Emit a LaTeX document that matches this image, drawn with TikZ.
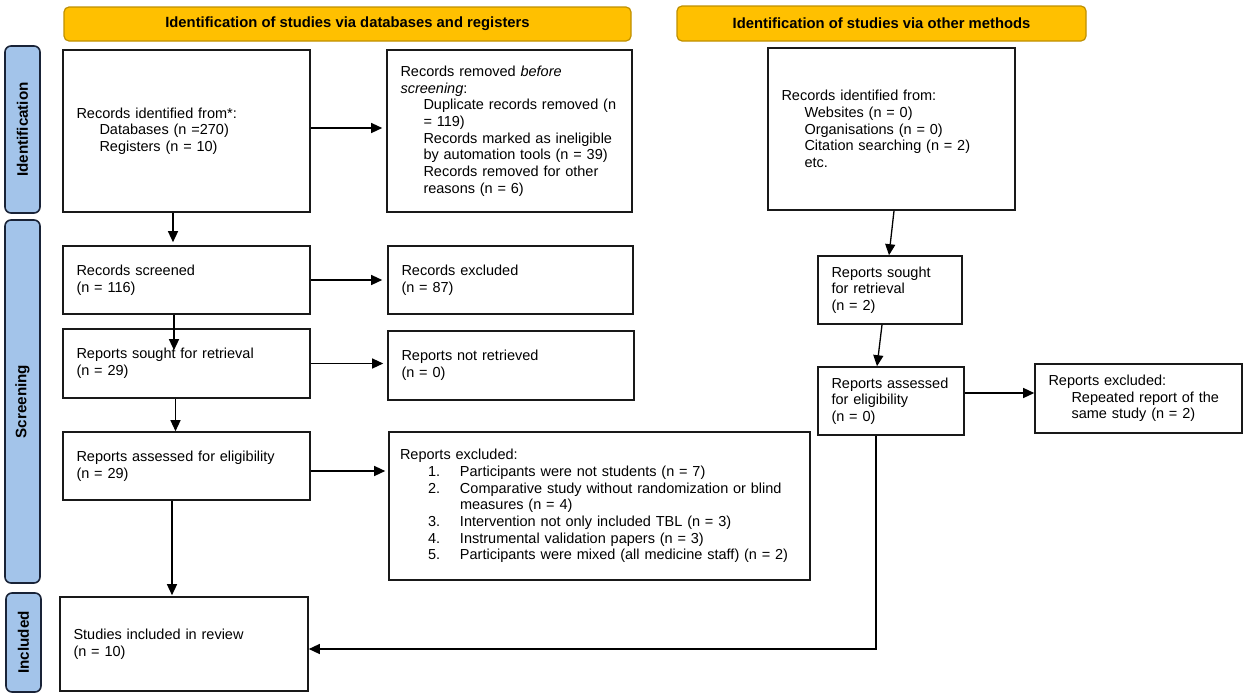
\documentclass[tikz,border=0pt]{standalone}
\usepackage{fontspec}
\setmainfont{Liberation Sans}
\usetikzlibrary{arrows.meta}
\definecolor{hdrfill}{RGB}{255,192,0}
\definecolor{hdrline}{RGB}{191,144,0}
\definecolor{sidefill}{RGB}{163,196,234}
\definecolor{sideline}{RGB}{25,35,55}
\newcommand\ind{\hspace*{23pt}}
\newcommand\plitem[2]{\hspace*{28pt}\makebox[32pt][l]{#1}\mbox{#2}}
\begin{document}
\begin{tikzpicture}[x=1pt,y=-1pt,
  box/.style={draw=black!90, line width=1.6pt, inner xsep=13.5pt, inner ysep=2pt,
    align=left, font=\fontsize{14.5}{16.7}\selectfont},
  hdr/.style={draw=hdrline, fill=hdrfill, line width=1.2pt, rounded corners=5pt,
    font=\bfseries\fontsize{14.8}{17}\selectfont},
  sidebar/.style={draw=sideline, fill=sidefill, line width=1.6pt, rounded corners=6pt,
    rotate=90, font=\bfseries\fontsize{15.2}{17}\selectfont},
  arr/.style={line width=1.3pt, -{Triangle[length=11pt,width=10pt]}},
  conn/.style={line width=1.3pt}]
\useasboundingbox (0,0) rectangle (1247,696);

% headers
\node[hdr, minimum width=567pt, minimum height=34pt] (h1) at (347.5,24) {Identification of studies via databases and registers};
\node[hdr, minimum width=409pt, minimum height=35pt] (h2) at (881.5,23.5) {Identification of studies via other methods};

% side bars
\node[sidebar, minimum width=167pt, minimum height=35pt] (s1) at (22.5,129.5) {Identification};
\node[sidebar, minimum width=363pt, minimum height=35pt] (s2) at (22.5,401.5) {Screening};
\node[sidebar, minimum width=99pt, minimum height=35pt] (s3) at (23.5,642.5) {Included};

% left column
\node[box, minimum width=247pt, minimum height=162pt, text width=220pt] (A) at (186.5,131)
  {Records identified from*:\\\ind Databases (n =270)\\\ind Registers (n = 10)};
\node[box, minimum width=245pt, minimum height=162pt, text width=218pt] (B) at (509.5,131)
  {Records removed \textit{before}\\\textit{screening}:\\\ind\mbox{Duplicate records removed (n}\\\ind = 119)\\\ind\mbox{Records marked as ineligible}\\\ind\mbox{by automation tools (n = 39)}\\\ind\mbox{Records removed for other}\\\ind reasons (n = 6)};
\node[box, minimum width=247pt, minimum height=68pt, text width=220pt] (D) at (186.5,280)
  {Records screened\\(n = 116)};
\node[box, minimum width=245pt, minimum height=68pt, text width=218pt] (E) at (510.5,280)
  {Records excluded\\(n = 87)};
\node[box, minimum width=247pt, minimum height=69pt, text width=220pt] (F) at (186.5,363.5)
  {Reports sought for retrieval\\(n = 29)};
\node[box, minimum width=246pt, minimum height=69pt, text width=219pt] (G) at (511,365.5)
  {Reports not retrieved\\(n = 0)};
\node[box, minimum width=247pt, minimum height=68pt, text width=220pt] (K) at (186.5,466)
  {Reports assessed for eligibility\\(n = 29)};
\node[box, minimum width=421pt, minimum height=148pt, text width=399pt, inner xsep=11pt] (L) at (599.5,506)
  {Reports excluded:\\
   \plitem{1.}{Participants were not students (n = 7)}\\
   \plitem{2.}{Comparative study without randomization or blind}\\
   \hspace*{60pt}measures (n = 4)\\
   \plitem{3.}{Intervention not only included TBL (n = 3)}\\
   \plitem{4.}{Instrumental validation papers (n = 3)}\\
   \plitem{5.}{Participants were mixed (all medicine staff) (n = 2)}};
\node[box, minimum width=248pt, minimum height=94pt, text width=221pt] (M) at (184,644)
  {Studies included in review\\(n = 10)};

% right column
\node[box, minimum width=247pt, minimum height=162pt, text width=220pt] (C) at (891.5,129)
  {Records identified from:\\\ind Websites (n = 0)\\\ind Organisations (n = 0)\\\ind\mbox{Citation searching (n = 2)}\\\ind etc.};
\node[box, minimum width=144pt, minimum height=68pt, text width=117pt] (H) at (890,290)
  {Reports sought\\for retrieval\\(n = 2)};
\node[box, minimum width=146pt, minimum height=68pt, text width=119pt] (I) at (891,401)
  {Reports assessed\\for eligibility\\(n = 0)};
\node[box, minimum width=207pt, minimum height=69pt, text width=180pt] (J) at (1138.5,398.5)
  {Reports excluded:\\\ind Repeated report of the\\\ind same study (n = 2)};

% connectors
\draw[arr, shorten >=4pt] ([yshift=3pt]A.east) -- ([yshift=3pt]A.east -| B.west);
\draw[arr, shorten >=3pt] ([xshift=-13.5pt]A.south) -- ([xshift=-13.5pt]A.south |- D.north);
\draw[arr, shorten >=5pt] (D.east) -- (D.east -| E.west);
\draw[arr] ([xshift=-12.5pt]D.south) -- ([xshift=-12.5pt,yshift=-22pt]F.north);
\draw[arr, shorten >=4pt] (F.east) -- (F.east -| G.west);
\draw[arr] ([xshift=-11pt]F.south) -- ([xshift=-11pt]F.south |- K.north);
\draw[arr, shorten >=3pt] ([yshift=-5pt]K.east) -- ([yshift=-5pt]K.east -| L.west);
\draw[arr, shorten >=1pt] ([xshift=-14.5pt]K.south) -- ([xshift=-14.5pt]K.south |- M.north);
\draw[arr] ([xshift=2.5pt]C.south) -- ([xshift=-1pt]H.north);
\draw[arr] ([xshift=-8pt]H.south) -- ([xshift=-14pt]I.north);
\draw[arr] ([yshift=8pt]I.east) -- ([yshift=8pt]I.east -| J.west);
\draw[arr] ([xshift=-15pt]I.south) |- ([yshift=-5pt]M.east);
\end{tikzpicture}
\end{document}
